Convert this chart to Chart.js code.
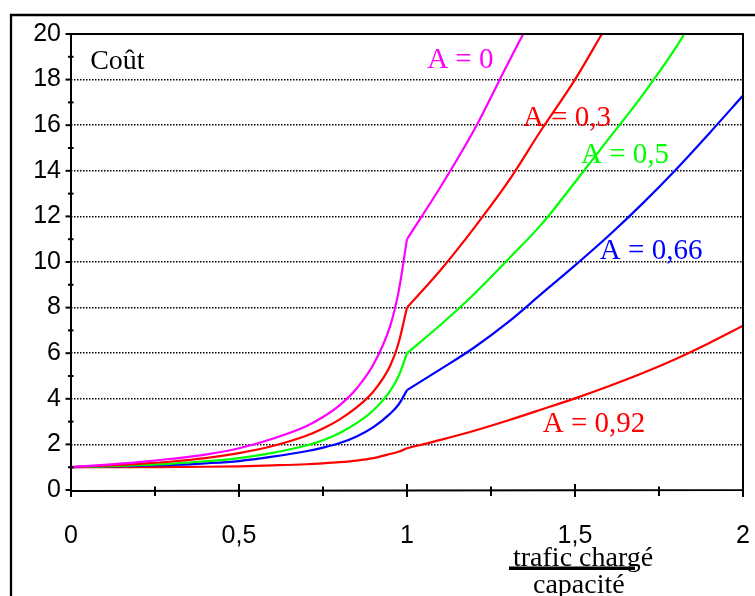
<!DOCTYPE html>
<html>
<head>
<meta charset="utf-8">
<script src="https://cdn.jsdelivr.net/npm/chart.js@4"></script>
<style>
  html, body { margin: 0; padding: 0; background: #fff; }
  #c { display: block; }
</style>
</head>
<body>
<canvas id="c" width="755" height="596"></canvas>
<script>
// ---- data ----
const xA0   = [0, 0.1, 0.2, 0.3, 0.4, 0.5, 0.6, 0.7, 0.75, 0.8, 0.85, 0.9, 0.95, 0.975, 1.0, 1.1, 1.2, 1.3, 1.346];
const yA0   = [1, 1.1, 1.22, 1.37, 1.55, 1.83, 2.25, 2.8, 3.2, 3.72, 4.45, 5.5, 7.2, 8.7, 11.0, 13.3, 15.8, 18.7, 20.0];

const xA03  = [0, 0.1, 0.2, 0.3, 0.4, 0.5, 0.6, 0.7, 0.75, 0.8, 0.85, 0.9, 0.95, 0.975, 1.0, 1.1, 1.2, 1.3, 1.4, 1.5, 1.58];
const yA03  = [1, 1.07, 1.15, 1.25, 1.4, 1.62, 1.93, 2.38, 2.7, 3.1, 3.62, 4.32, 5.45, 6.45, 8.0, 9.65, 11.5, 13.5, 15.8, 18.0, 20.0];

const xA05  = [0, 0.1, 0.2, 0.3, 0.4, 0.5, 0.6, 0.7, 0.75, 0.8, 0.85, 0.9, 0.95, 0.975, 1.0, 1.1, 1.2, 1.3, 1.4, 1.5, 1.6, 1.7, 1.8, 1.825];
const yA05  = [1, 1.04, 1.09, 1.16, 1.26, 1.4, 1.63, 1.95, 2.18, 2.5, 2.93, 3.5, 4.35, 5.0, 6.0, 7.25, 8.6, 10.1, 11.65, 13.5, 15.4, 17.3, 19.4, 20.0];

const xA066 = [0, 0.1, 0.2, 0.3, 0.4, 0.5, 0.6, 0.7, 0.75, 0.8, 0.85, 0.9, 0.95, 0.975, 1.0, 1.1, 1.2, 1.3, 1.4, 1.5, 1.6, 1.7, 1.8, 1.9, 2.0];
const yA066 = [1, 1.03, 1.06, 1.1, 1.17, 1.27, 1.46, 1.7, 1.86, 2.06, 2.35, 2.76, 3.35, 3.75, 4.38, 5.3, 6.25, 7.35, 8.6, 9.85, 11.15, 12.55, 14.05, 15.65, 17.3];

const xA092 = [0, 0.1, 0.2, 0.3, 0.4, 0.5, 0.6, 0.7, 0.75, 0.8, 0.85, 0.9, 0.95, 0.975, 1.0, 1.1, 1.2, 1.3, 1.4, 1.5, 1.6, 1.7, 1.8, 1.9, 2.0];
const yA092 = [1, 1.0, 1.0, 1.01, 1.02, 1.04, 1.08, 1.13, 1.17, 1.22, 1.29, 1.4, 1.58, 1.68, 1.83, 2.2, 2.6, 3.05, 3.53, 4.02, 4.55, 5.12, 5.75, 6.45, 7.2];

const seriesNames = ['A = 0', 'A = 0,3', 'A = 0,5', 'A = 0,66', 'A = 0,92'];
const xTickValues = [0, 0.5, 1, 1.5, 2];
const yTickValues = [0, 2, 4, 6, 8, 10, 12, 14, 16, 18, 20];
const yAxisTitle = 'Coût';
const xTitleTop = 'trafic chargé';
const xTitleBottom = 'capacité';

// ---- styling / placement (not data) ----
const colors = ['#ff00ff', '#ff0000', '#00ff00', '#0000ff', '#ff0000'];
const labelAnchors = [[1.06, 18.5], [1.345, 15.96], [1.518, 14.33], [1.574, 10.12], [1.404, 2.56]];
const yTitleAnchor = [0.057, 18.45];
const kneeX = 1.0; // curves have a kink at saturation

const pts = (xs, ys) => xs.map((v, i) => ({ x: v, y: ys[i] }));
const allX = [xA0, xA03, xA05, xA066, xA092];
const allY = [yA0, yA03, yA05, yA066, yA092];

const datasets = [];
seriesNames.forEach((n, i) => {
  const p = pts(allX[i], allY[i]);
  const parts = [p.filter(q => q.x <= kneeX), p.filter(q => q.x >= kneeX)];
  parts.forEach(part => datasets.push({
    label: n,
    data: part,
    borderColor: colors[i],
    backgroundColor: colors[i],
    borderWidth: 2.2,
    pointRadius: 0,
    cubicInterpolationMode: 'monotone',
    fill: false
  }));
});

const serif = '"Liberation Serif", "Times New Roman", serif';
const sans = '"Liberation Sans", Arial, sans-serif';

const decor = {
  id: 'decor',
  afterDraw(chart) {
    const { ctx, chartArea: a, scales: { x, y } } = chart;
    ctx.save();
    ctx.strokeStyle = '#000';
    ctx.lineCap = 'butt';
    // outer frame
    ctx.lineWidth = 2.3;
    ctx.beginPath();
    ctx.moveTo(11, 596); ctx.lineTo(11, 15); ctx.lineTo(755, 15);
    ctx.stroke();
    // plot box
    ctx.lineWidth = 2;
    ctx.beginPath();
    ctx.moveTo(a.left, a.top); ctx.lineTo(a.right, a.top); ctx.lineTo(a.right, a.bottom);
    ctx.moveTo(a.left, a.top - 1); ctx.lineTo(a.left, a.bottom + 1); ctx.lineTo(a.right + 1, a.bottom);
    ctx.stroke();
    // x ticks every 0.25
    for (let k = 0; k <= 8; k++) {
      const v = k * 0.25;
      const px = x.getPixelForValue(v);
      const major = (k % 2 === 0);
      ctx.beginPath();
      ctx.moveTo(px, a.bottom - (major ? 6 : 3.5));
      ctx.lineTo(px, a.bottom + (major ? 7 : 6));
      ctx.stroke();
    }
    // y ticks every 1
    for (let v = 0; v <= 20; v++) {
      const py = y.getPixelForValue(v);
      ctx.beginPath();
      if (v % 2 === 0) { ctx.moveTo(a.left - 5.5, py); ctx.lineTo(a.left, py); }
      else { ctx.moveTo(a.left - 3, py); ctx.lineTo(a.left + 2.5, py); }
      ctx.stroke();
    }
    // curve labels
    ctx.font = '29px ' + serif;
    ctx.textAlign = 'left';
    ctx.textBaseline = 'alphabetic';
    seriesNames.forEach((n, i) => {
      ctx.fillStyle = colors[i];
      ctx.fillText(n, x.getPixelForValue(labelAnchors[i][0]), y.getPixelForValue(labelAnchors[i][1]));
    });
    // y title
    ctx.fillStyle = '#000';
    ctx.font = '28px ' + serif;
    ctx.fillText(yAxisTitle, x.getPixelForValue(yTitleAnchor[0]), y.getPixelForValue(yTitleAnchor[1]));
    // x title (fraction)
    ctx.font = '28px ' + serif;
    ctx.fillText(xTitleTop, 513, 566);
    ctx.fillText(xTitleBottom, 533, 593);
    ctx.fillRect(509, 566.5, 126, 3.5);
    ctx.restore();
  }
};

new Chart(document.getElementById('c'), {
  type: 'line',
  data: { datasets },
  plugins: [decor],
  options: {
    responsive: false,
    devicePixelRatio: 1,
    animation: false,
    layout: { padding: { top: 34, right: 12, left: 0, bottom: 0 } },
    plugins: { legend: { display: false }, tooltip: { enabled: false } },
    scales: {
      x: {
        type: 'linear',
        min: 0, max: 2,
        afterBuildTicks: (s) => { s.ticks = xTickValues.map(v => ({ value: v })); },
        afterFit: (s) => { s.height = 106; s.paddingLeft = 0; s.paddingRight = 0; },
        grid: { display: false, drawTicks: false },
        border: { display: false },
        ticks: {
          autoSkip: false,
          maxRotation: 0,
          padding: 31,
          color: '#000',
          font: { family: sans, size: 25 },
          callback: (v) => String(v).replace('.', ',')
        }
      },
      y: {
        type: 'linear',
        min: 0, max: 20,
        afterBuildTicks: (s) => { s.ticks = yTickValues.map(v => ({ value: v })); },
        afterFit: (s) => { s.width = 71; s.paddingTop = 0; s.paddingBottom = 0; },
        grid: {
          drawTicks: false,
          lineWidth: 1.5,
          color: (c) => (c.tick && c.tick.value > 0 && c.tick.value < 20) ? '#000' : 'rgba(0,0,0,0)'
        },
        border: { display: false, dash: [1.5, 1.5] },
        ticks: {
          autoSkip: false,
          padding: 10,
          color: '#000',
          font: { family: sans, size: 25 },
          callback: (v) => String(v)
        }
      }
    }
  }
});
</script>
</body>
</html>
